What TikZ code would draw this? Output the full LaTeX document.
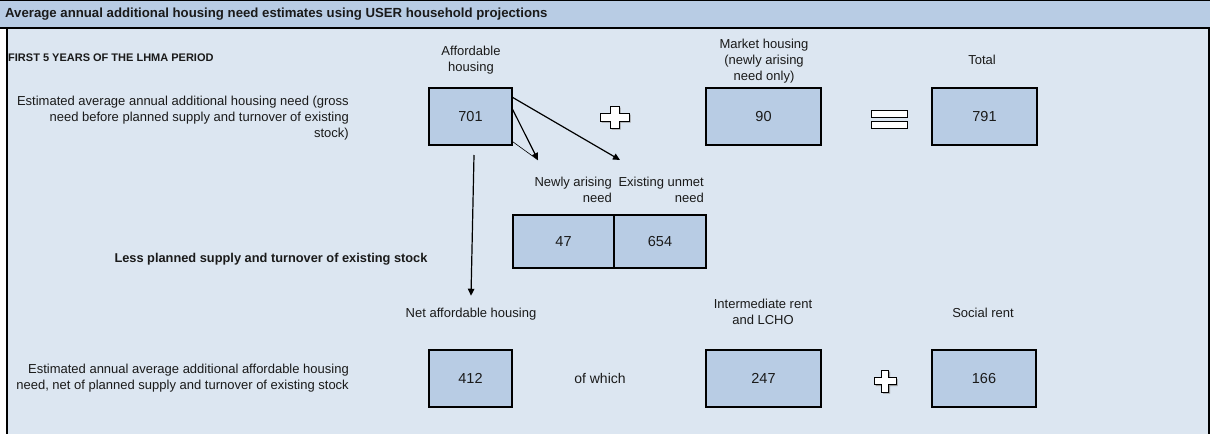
\documentclass[tikz,border=0pt]{standalone}
\usepackage{fontspec}
\setmainfont{Liberation Sans}
\usetikzlibrary{arrows.meta,calc}
\definecolor{titleblue}{HTML}{B8CCE4}
\definecolor{bodyblue}{HTML}{DCE6F1}
\definecolor{boxblue}{HTML}{B8CCE4}
\definecolor{txt}{HTML}{1A1A1A}
\definecolor{shadowgray}{HTML}{9A9A9A}
\tikzset{
  numbox/.style={draw=black, fill=boxblue, line width=1.2pt, inner sep=0pt, text=txt,
    font=\fontsize{14.5}{16}\selectfont},
  lbl/.style={inner sep=0pt, text=txt, font=\fontsize{13}{16}\selectfont, align=center},
  rlbl/.style={inner sep=0pt, text=txt, font=\fontsize{13}{15.7}\selectfont, align=right},
  boldlbl/.style={inner sep=0pt, text=txt, font=\fontsize{12.8}{14}\selectfont\bfseries},
  conn/.style={draw=black, line width=1.2pt, -{Triangle[length=7pt,width=6.5pt]}},
  thinconn/.style={draw=black, line width=0.6pt},
  plusshape/.style={draw=black, fill=white, line width=1pt, line join=miter},
}
\begin{document}
\begin{tikzpicture}[x=1pt,y=-1pt]
\useasboundingbox (0,0) rectangle (1210,434);
% panel
\fill[bodyblue] (7,28) rectangle (1209,434);
\draw[line width=1.2pt] (7,28) -- (7,434);
\draw[line width=1.2pt] (1209,28) -- (1209,434);
\fill[titleblue] (0,0) rectangle (1210,28);
\draw[line width=0.8pt] (0,0.4) -- (1210,0.4);
\draw[line width=2pt] (0,28) -- (1210,28);
\node[boldlbl, font=\fontsize{13.2}{15}\selectfont\bfseries, anchor=west] (title) at (5,14.5) {Average annual additional housing need estimates using USER household projections};

\node[inner sep=0pt, text=txt, font=\fontsize{11}{12}\selectfont\bfseries, anchor=west] (period) at (8,58) {FIRST 5 YEARS OF THE LHMA PERIOD};

% row 1 labels
\node[rlbl, anchor=east] (desc1) at (349,118) {Estimated average annual additional housing need (gross\\need before planned supply and turnover of existing\\stock)};
\node[lbl] (lafford) at (471,60) {Affordable\\housing};
\node[lbl] (lmarket) at (764,61) {Market housing\\(newly arising\\need only)};
\node[lbl] (ltotal) at (982,60) {Total};

% row 1 boxes
\node[numbox, minimum width=83pt, minimum height=57pt] (b701) at (470.5,116.5) {701};
\node[numbox, minimum width=115pt, minimum height=57pt] (b90) at (763.5,116.5) {90};
\node[numbox, minimum width=105pt, minimum height=57pt] (b791) at (984.5,116.5) {791};

% plus 1 (shadow, then shape)
\fill[shadowgray] (601.5,114.5) -- (611.5,114.5) -- (611.5,107.5) -- (620.5,107.5) -- (620.5,114.5) -- (630.5,114.5)
  -- (630.5,122.5) -- (620.5,122.5) -- (620.5,129.5) -- (611.5,129.5) -- (611.5,122.5) -- (601.5,122.5) -- cycle;
\draw[plusshape] (600,113) -- (610,113) -- (610,106) -- (619,106) -- (619,113) -- (629,113)
  -- (629,121) -- (619,121) -- (619,128) -- (610,128) -- (610,121) -- (600,121) -- cycle;
% equals
\draw[line width=1pt, fill=white] (871,110) rectangle (907,117);
\draw[line width=1pt, fill=white] (871,121) rectangle (907,128);

% split labels and boxes
\node[rlbl, anchor=east, font=\fontsize{13}{16}\selectfont] (lnew) at (612,190) {Newly arising\\need};
\node[rlbl, anchor=east, font=\fontsize{13}{16}\selectfont] (lexist) at (704,190) {Existing unmet\\need};
\node[numbox, minimum width=101pt, minimum height=53pt] (b47) at (563.5,241.5) {47};
\node[numbox, minimum width=92pt, minimum height=53pt] (b654) at (660,241.5) {654};

\coordinate (tipnew) at (538,160);
\coordinate (tipexist) at (620,160);
\draw[conn] ([yshift=-10pt]b701.north east) -- (tipexist);
\draw[conn] ([yshift=-22pt]b701.north east) -- (tipnew);
\draw[thinconn] ([yshift=4pt]b701.south east) -- (tipnew);

\node[boldlbl] (less) at (271,259) {Less planned supply and turnover of existing stock};

% vertical arrow
\coordinate (vstart) at (474,155);
\node[lbl] (lnet) at (471,314) {Net affordable housing};
\draw[conn] (vstart) -- ([yshift=12pt]lnet.north);

% row 2
\node[rlbl, anchor=east] (desc2) at (349,378) {Estimated annual average additional affordable housing\\need, net of planned supply and turnover of existing stock};
\node[numbox, minimum width=83pt, minimum height=57pt] (b412) at (470.5,378.5) {412};
\node[lbl, font=\fontsize{14}{16}\selectfont] (ofwhich) at (600,378) {of which};
\node[lbl] (linter) at (763,312) {Intermediate rent\\and LCHO};
\node[numbox, minimum width=115pt, minimum height=57pt] (b247) at (763.5,378.5) {247};
\node[lbl] (lsocial) at (983,313) {Social rent};
\node[numbox, minimum width=104pt, minimum height=57pt] (b166) at (984,378.5) {166};

% plus 2 (shadow, then shape)
\fill[shadowgray] (875.5,379) -- (883,379) -- (883,371.5) -- (890,371.5) -- (890,379) -- (897.5,379)
  -- (897.5,386) -- (890,386) -- (890,393.5) -- (883,393.5) -- (883,386) -- (875.5,386) -- cycle;
\draw[plusshape] (874,377.5) -- (881.5,377.5) -- (881.5,370) -- (888.5,370) -- (888.5,377.5) -- (896,377.5)
  -- (896,384.5) -- (888.5,384.5) -- (888.5,392) -- (881.5,392) -- (881.5,384.5) -- (874,384.5) -- cycle;
\end{tikzpicture}
\end{document}
